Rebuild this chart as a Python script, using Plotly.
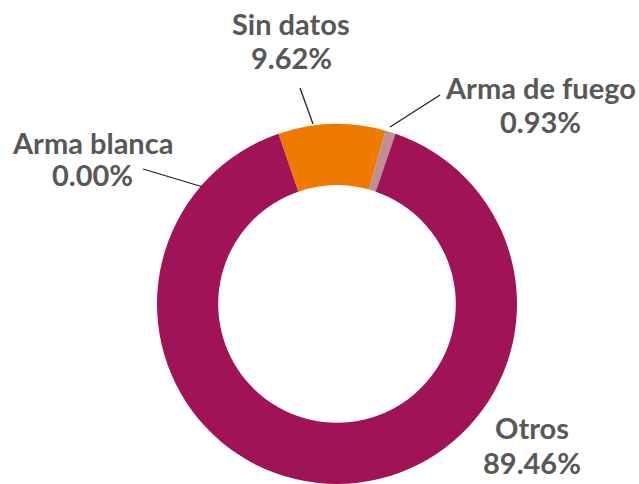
import plotly.graph_objects as go

# Data
categories = ["Sin datos", "Arma de fuego", "Otros", "Arma blanca"]
values = [9.62, 0.93, 89.46, 0.00]
value_labels = ["9.62%", "0.93%", "89.46%", "0.00%"]
colors = ["#EE7B00", "#C08F92", "#A01356", "#E3B800"]

W, H = 639, 484
cx, cy, r = 337, 304, 180

fig = go.Figure(
    go.Pie(
        labels=categories,
        values=values,
        hole=0.66,
        sort=False,
        direction="clockwise",
        rotation=-19,
        marker=dict(colors=colors, line=dict(width=0)),
        textinfo="none",
        hoverinfo="label+percent",
        showlegend=False,
        domain=dict(x=[(cx - r) / W, (cx + r) / W], y=[0, 2 * r / H]),
    )
)

def px(x):
    return x / W

def py(y):
    return 1 - y / H

# label line centres (pixels): x, y of name line, y of value line
label_pos = {
    "Sin datos": (291, 23, 57),
    "Arma de fuego": (540, 87, 122),
    "Otros": (532, 427, 462),
    "Arma blanca": (92.5, 142, 175),
}
leaders = {
    "Sin datos": ((300, 88), (313, 124)),
    "Arma de fuego": ((440, 95), (390, 127)),
    "Arma blanca": ((143, 169), (203, 187)),
}

font = dict(family="Lato", size=29, color="#585858")
annotations = []
for cat, val in zip(categories, value_labels):
    x, y1, y2 = label_pos[cat]
    for txt, yy in ((cat, y1), (val, y2)):
        annotations.append(
            dict(
                x=px(x), y=py(yy), xref="paper", yref="paper",
                text=f"<b>{txt}</b>",
                showarrow=False, xanchor="center", yanchor="middle",
                font=font,
            )
        )

shapes = []
for cat, ((x0, y0), (x1, y1)) in leaders.items():
    shapes.append(
        dict(type="line", xref="paper", yref="paper",
             x0=px(x0), y0=py(y0), x1=px(x1), y1=py(y1),
             line=dict(color="#222222", width=1.3))
    )

fig.update_layout(
    width=W, height=H,
    margin=dict(l=0, r=0, t=0, b=0),
    paper_bgcolor="white",
    plot_bgcolor="white",
    annotations=annotations,
    shapes=shapes,
)

fig.write_html(
    "out.html",
    config={"displayModeBar": False},
    post_script="document.body.style.margin='0';document.body.style.overflow='hidden';",
)
